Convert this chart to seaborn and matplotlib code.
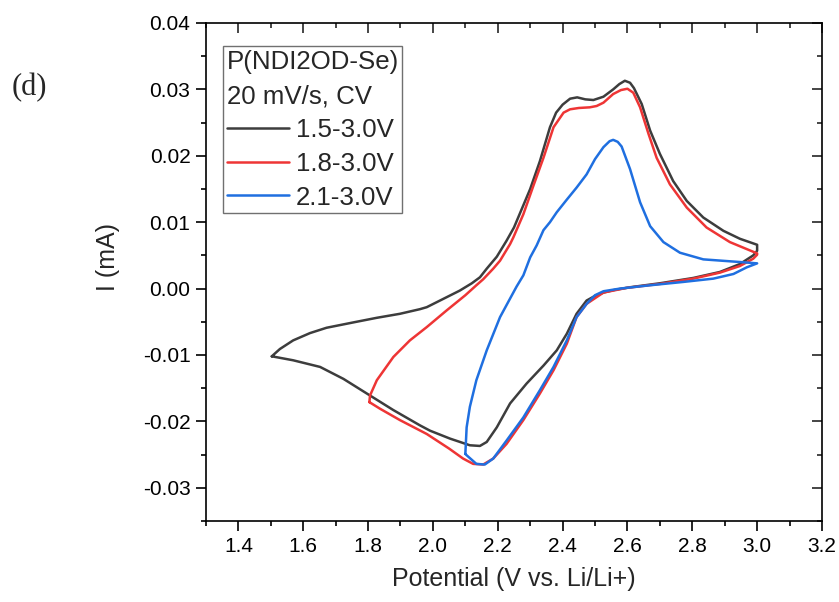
import numpy as np
import pandas as pd
import matplotlib
matplotlib.use("Agg")
import matplotlib.pyplot as plt
from matplotlib.ticker import MultipleLocator
import seaborn as sns

# digitized CV loops (potential V, current mA), traced around each loop
black_x = [1.503, 1.528, 1.569, 1.621, 1.672, 1.754, 1.827, 1.898, 1.960, 1.981,
           2.030, 2.083, 2.120, 2.145, 2.166, 2.197, 2.227, 2.250, 2.269, 2.300,
           2.330, 2.361, 2.380, 2.400, 2.423, 2.445, 2.470, 2.495, 2.526, 2.556,
           2.575, 2.592, 2.608, 2.620, 2.644, 2.670, 2.700, 2.741, 2.783, 2.834,
           2.896, 2.947, 3.000,
           3.000, 2.988, 2.947, 2.885, 2.803, 2.700, 2.608, 2.560, 2.526, 2.500,
           2.474, 2.443, 2.413, 2.382, 2.341, 2.289, 2.238, 2.197, 2.166, 2.145,
           2.114, 2.053, 1.991, 1.960, 1.878, 1.796, 1.724, 1.652, 1.569, 1.503]
black_y = [-0.0102, -0.0091, -0.0078, -0.0067, -0.0059, -0.0051, -0.0044, -0.0038, -0.0031, -0.0028,
           -0.0016, -0.0003, 0.0008, 0.0017, 0.0030, 0.0048, 0.0072, 0.0092, 0.0114, 0.0150,
           0.0192, 0.0243, 0.0265, 0.0277, 0.0286, 0.0288, 0.0285, 0.0284, 0.0289, 0.0300,
           0.0308, 0.0313, 0.0310, 0.0302, 0.0278, 0.0238, 0.0203, 0.0162, 0.0132, 0.0107,
           0.0087, 0.0075, 0.0066,
           0.0057, 0.0050, 0.0037, 0.0025, 0.0016, 0.0008, 0.0002, -0.0002, -0.0006, -0.0011,
           -0.0018, -0.0038, -0.0068, -0.0093, -0.0116, -0.0143, -0.0173, -0.0209, -0.0231, -0.0237,
           -0.0236, -0.0226, -0.0214, -0.0206, -0.0183, -0.0158, -0.0136, -0.0118, -0.0108, -0.0102]

red_x = [1.804, 1.806, 1.827, 1.878, 1.929, 1.981, 2.042, 2.100, 2.134, 2.155,
         2.186, 2.207, 2.238, 2.248, 2.279, 2.310, 2.341, 2.372, 2.403, 2.423,
         2.450, 2.484, 2.505, 2.526, 2.556, 2.580, 2.600, 2.618, 2.639, 2.665,
         2.690, 2.731, 2.783, 2.844, 2.916, 3.000,
         3.000, 2.988, 2.947, 2.885, 2.803, 2.700, 2.597, 2.526, 2.474, 2.443,
         2.413, 2.372, 2.330, 2.279, 2.227, 2.186, 2.155, 2.124, 2.093, 2.050,
         1.981, 1.898, 1.837, 1.804]
red_y = [-0.0171, -0.0161, -0.0138, -0.0103, -0.0078, -0.0058, -0.0033, -0.0010, 0.0005, 0.0014,
         0.0030, 0.0042, 0.0067, 0.0077, 0.0112, 0.0155, 0.0197, 0.0243, 0.0265, 0.0270,
         0.0272, 0.0273, 0.0275, 0.0280, 0.0293, 0.0299, 0.0301, 0.0295, 0.0273, 0.0233,
         0.0197, 0.0157, 0.0122, 0.0092, 0.0070, 0.0053,
         0.0051, 0.0045, 0.0034, 0.0024, 0.0015, 0.0007, 0.0001, -0.0006, -0.0023, -0.0043,
         -0.0083, -0.0123, -0.0158, -0.0198, -0.0234, -0.0256, -0.0265, -0.0264, -0.0256, -0.0241,
         -0.0219, -0.0198, -0.0181, -0.0171]

blue_x = [2.100, 2.104, 2.114, 2.134, 2.166, 2.207, 2.238, 2.258, 2.279, 2.300,
          2.320, 2.341, 2.361, 2.382, 2.413, 2.443, 2.474, 2.500, 2.526, 2.545,
          2.556, 2.570, 2.582, 2.608, 2.639, 2.670, 2.711, 2.762, 2.834, 2.947,
          3.000,
          2.968, 2.927, 2.865, 2.772, 2.670, 2.577, 2.526, 2.500, 2.474, 2.443,
          2.413, 2.372, 2.330, 2.279, 2.227, 2.186, 2.160, 2.134, 2.104, 2.100]
blue_y = [-0.0249, -0.0209, -0.0178, -0.0138, -0.0093, -0.0043, -0.0015, 0.0003, 0.0020, 0.0047,
          0.0065, 0.0088, 0.0100, 0.0115, 0.0134, 0.0152, 0.0172, 0.0195, 0.0213, 0.0222,
          0.0224, 0.0221, 0.0214, 0.0180, 0.0130, 0.0094, 0.0070, 0.0054, 0.0044, 0.0040,
          0.0038,
          0.0032, 0.0022, 0.0015, 0.0010, 0.0005, 0.0000, -0.0004, -0.0010, -0.0023, -0.0043,
          -0.0078, -0.0118, -0.0153, -0.0194, -0.0229, -0.0256, -0.0265, -0.0264, -0.0251, -0.0249]

scan_labels = ["1.5-3.0V", "1.8-3.0V", "2.1-3.0V"]
scan_colors = ["#3d3d3d", "#ee3535", "#1f6fe0"]

df = pd.concat([
    pd.DataFrame({"E": black_x, "I": black_y, "scan": scan_labels[0]}),
    pd.DataFrame({"E": red_x, "I": red_y, "scan": scan_labels[1]}),
    pd.DataFrame({"E": blue_x, "I": blue_y, "scan": scan_labels[2]}),
], ignore_index=True)

sns.set_style("ticks")
plt.rcParams["font.family"] = ["Liberation Sans", "DejaVu Sans"]

fig, ax = plt.subplots(figsize=(8.39, 6.02), dpi=100)
fig.subplots_adjust(left=0.2455, right=0.9797, top=0.9618, bottom=0.1346)

sns.lineplot(data=df, x="E", y="I", hue="scan", palette=scan_colors,
             sort=False, estimator=None, linewidth=1.8, ax=ax)
for line in ax.get_lines():
    line.set_solid_joinstyle("round")

ax.set_xlim(1.3, 3.2)
ax.set_ylim(-0.035, 0.04)
ax.xaxis.set_major_locator(MultipleLocator(0.2))
ax.xaxis.set_minor_locator(MultipleLocator(0.1))
ax.yaxis.set_major_locator(MultipleLocator(0.01))
ax.yaxis.set_minor_locator(MultipleLocator(0.005))
ax.xaxis.set_major_formatter(plt.FuncFormatter(lambda v, p: f"{v:.1f}"))
ax.yaxis.set_major_formatter(plt.FuncFormatter(lambda v, p: f"{v:.2f}"))

for s in ax.spines.values():
    s.set_linewidth(1.2)
    s.set_color("black")
ax.tick_params(which="both", direction="out", width=1.2, colors="black",
               labelsize=15, pad=4)
ax.tick_params(which="major", length=7.2)
ax.tick_params(which="minor", length=3.6)

# mirrored ticks pointing inward on top and right
top = ax.secondary_xaxis("top")
top.xaxis.set_major_locator(MultipleLocator(0.2))
top.xaxis.set_minor_locator(MultipleLocator(0.1))
top.tick_params(which="both", direction="in", labeltop=False, width=1.2)
top.tick_params(which="major", length=7.2)
top.tick_params(which="minor", length=3.6)
top.spines["top"].set_visible(False)
right = ax.secondary_yaxis("right")
right.yaxis.set_major_locator(MultipleLocator(0.01))
right.yaxis.set_minor_locator(MultipleLocator(0.005))
right.tick_params(which="both", direction="in", labelright=False, width=1.2)
right.tick_params(which="major", length=7.2)
right.tick_params(which="minor", length=3.6)
right.spines["right"].set_visible(False)

ax.set_xlabel("Potential (V vs. Li/Li+)", fontsize=18, labelpad=8)
ax.set_ylabel("I (mA)", fontsize=18, va="center")
ax.yaxis.set_label_coords(-0.159, 0.53)

handles, labels = ax.get_legend_handles_labels()
leg = ax.legend(handles, labels, title="P(NDI2OD-Se)\n20 mV/s, CV",
                loc="upper left", bbox_to_anchor=(0.0276, 0.9538),
                borderaxespad=0, borderpad=0.14, fontsize=18.6, title_fontsize=18.6,
                alignment="left", handlelength=2.4, handletextpad=0.27,
                labelspacing=0.38, fancybox=False, framealpha=1,
                edgecolor="#707070")
leg.get_title().set_linespacing(1.55)
leg.get_frame().set_linewidth(1.0)
for line in leg.get_lines():
    line.set_linewidth(1.8)

fig.text(12 / 839, 1 - 88 / 602, "(d)", family="Liberation Serif",
         fontsize=22, ha="left", va="center")

fig.savefig("out.png", dpi=100)
